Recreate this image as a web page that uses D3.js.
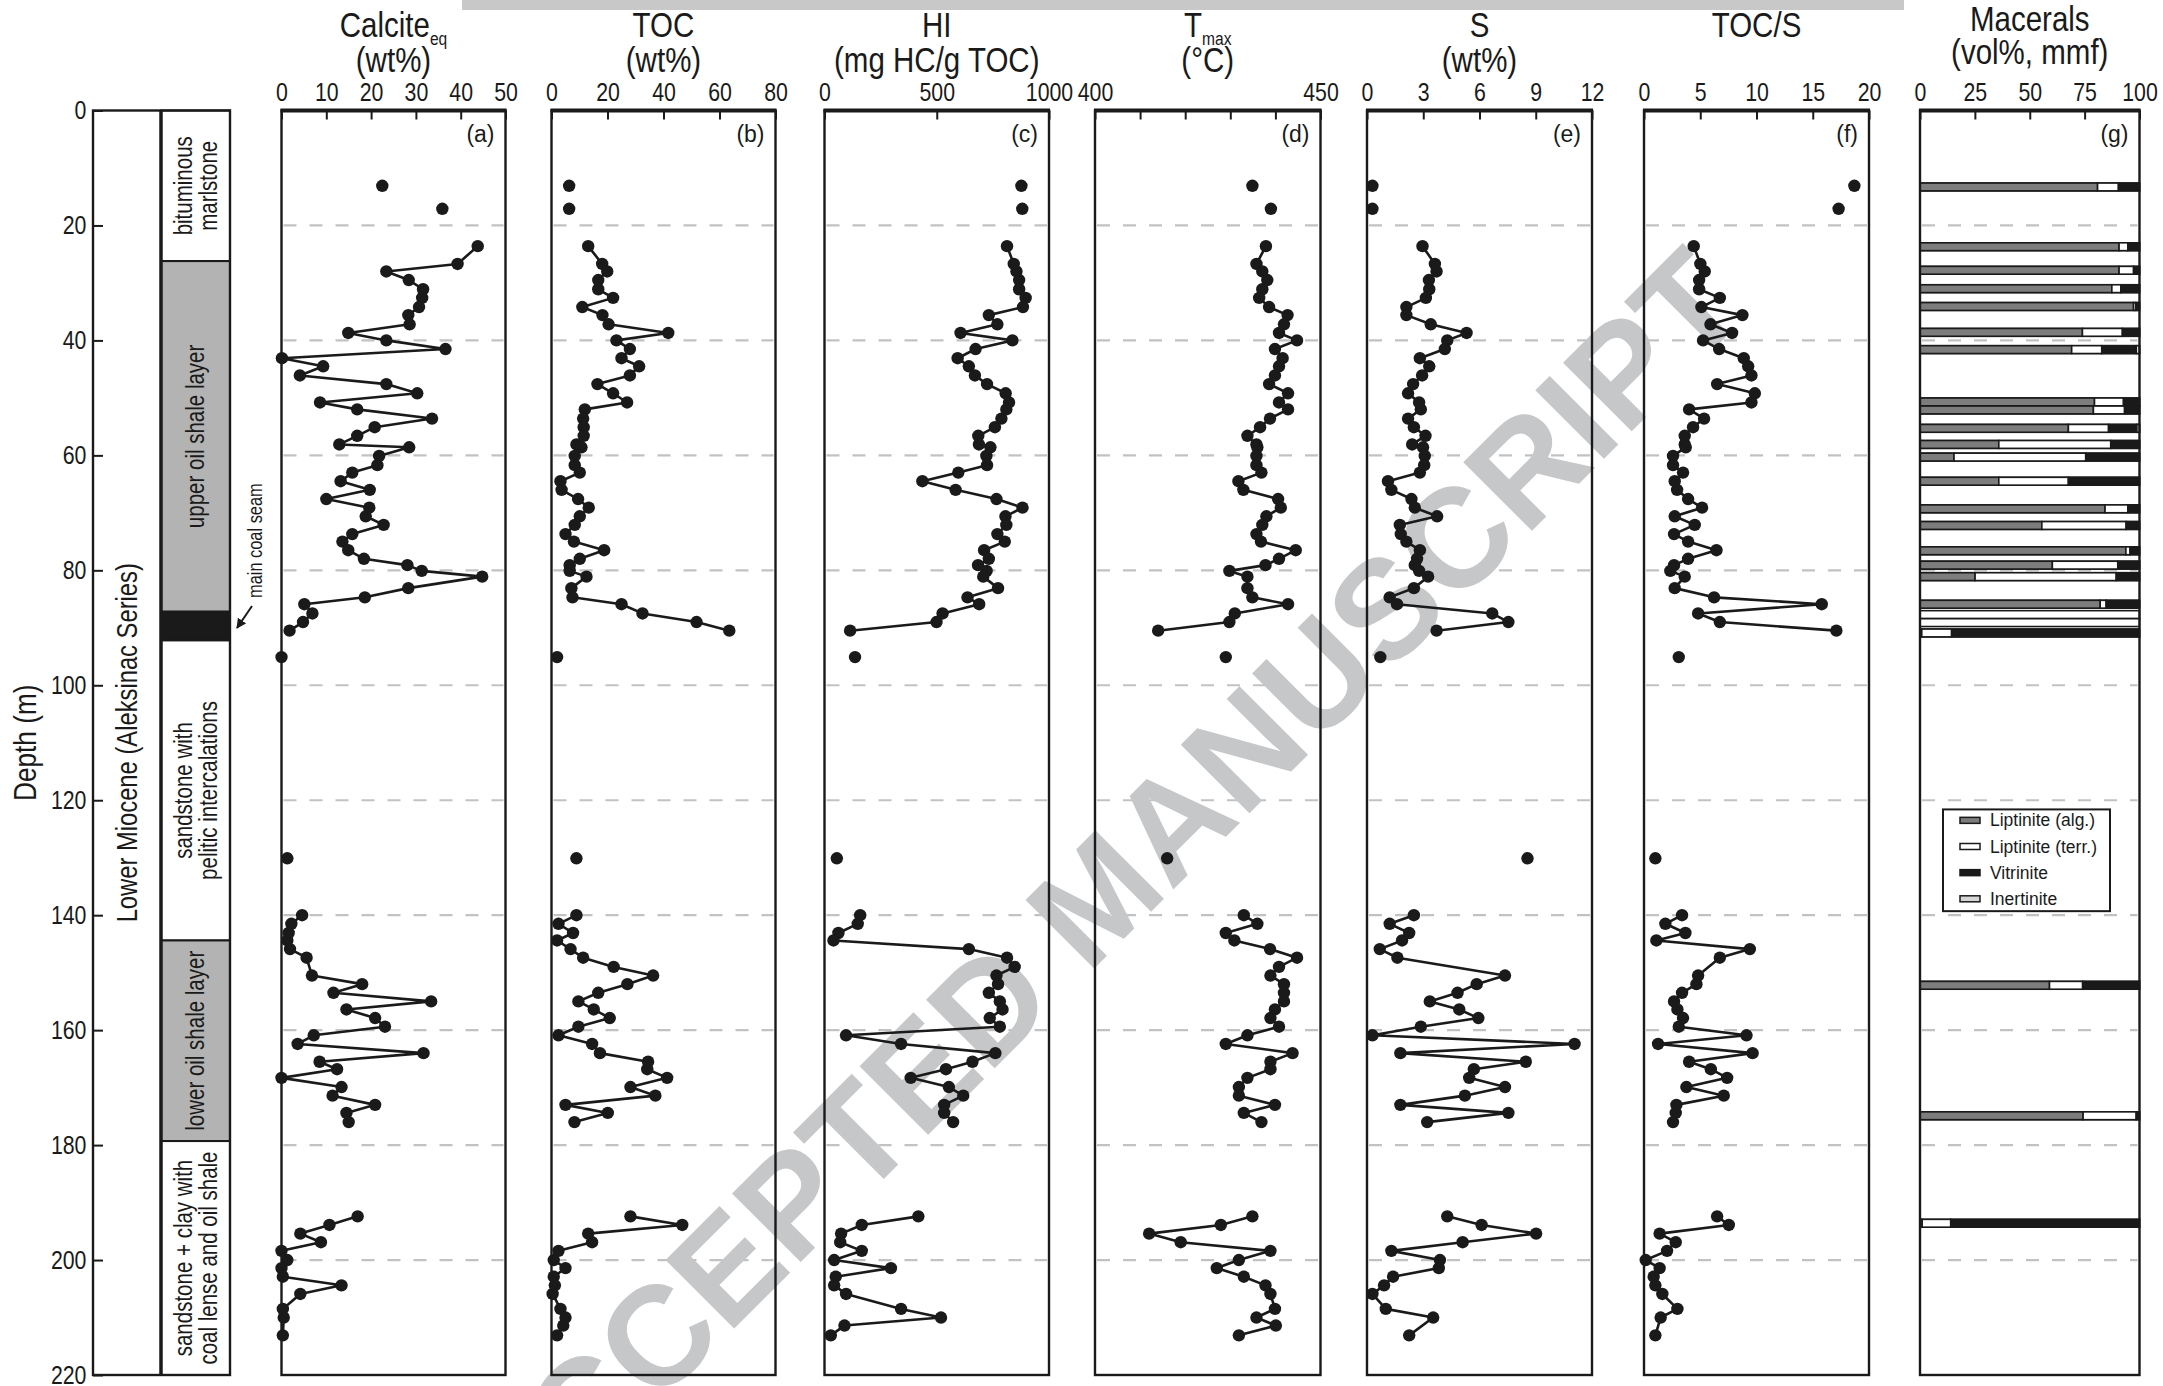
<!DOCTYPE html>
<html>
<head>
<meta charset="utf-8">
<script src="https://cdn.jsdelivr.net/npm/d3@7"></script>
<style>
  body { margin: 0; background: #fff; }
  svg { display: block; font-family: "Liberation Sans", Arial, sans-serif; }
</style>
</head>
<body>
<svg id="chart" width="2163" height="1386"></svg>
<script>
// Sample depths (m). Blocks are drawn separately: loose points are not joined.
var depthMarl = [13.1, 17.1];
var depthUpper = [23.6, 26.7, 28.0, 29.5, 31.1, 32.6, 34.2, 35.6, 37.2, 38.7, 40.0, 41.5, 43.1, 44.5, 46.1, 47.6,
  49.2, 50.8, 52.0, 53.6, 55.1, 56.6, 58.1, 58.6, 60.1, 61.7, 63.0, 64.5, 66.0, 67.6, 69.1, 70.6, 72.1, 73.7,
  75.0, 76.5, 78.0, 79.1, 80.1, 81.1, 83.1, 84.7, 85.9, 87.5, 89.0, 90.5];
var depthLoose = [95.1, 130.1];
var depthLower = [140.0, 141.5, 143.1, 144.4, 145.9, 147.4, 149.0, 150.5, 152.0, 153.5, 155.0, 156.4, 157.9,
  159.4, 160.9, 162.4, 164.0, 165.5, 166.8, 168.3, 169.9, 171.4, 173.0, 174.4, 176.0];
var depthBase = [192.4, 193.9, 195.4, 196.9, 198.4, 200.0, 201.4, 202.9, 204.4, 205.9, 208.5, 210.0, 211.4, 213.1];
var depthBlocks = [depthMarl, depthUpper, depthLoose, depthLower, depthBase];
var blockJoined = [false, true, false, true, true];

// Values in the same order as the depths above (null = not measured)
var calcite = [22.5, 35.9,
  43.8, 39.3, 23.4, 28.4, 31.6, 31.4, 30.7, 28.3, 28.6, 14.9, 23.4, 36.6, 0.1, 9.3, 4.1, 23.4, 30.3, 8.6, 16.9,
  33.6, 20.8, 16.9, 12.9, 28.5, 21.8, 21.4, 15.8, 13.2, 19.7, 10.0, 19.6, 18.8, 22.8, 15.8, 13.6, 14.9, 18.4,
  28.1, 31.3, 44.8, 28.3, 18.6, 5.1, 6.9, 4.8, 1.8,
  0.0, 1.3,
  4.6, 2.2, 1.6, 1.3, 1.9, 5.6, null, 6.8, 18.0, 11.6, 33.4, 14.5, 20.9, 23.1, 7.2, 3.6, 31.7, 8.5, 12.4, 0.0,
  13.4, 11.4, 20.9, 14.5, 15.0,
  17.0, 10.7, 4.2, 8.8, 0.0, 1.3, 0.0, 0.3, 13.4, 4.2, 0.3, 0.5, null, 0.3];
var toc = [6.3, 6.3,
  13.1, 18.1, 19.9, 16.7, 16.7, 22.0, 11.0, 18.2, 20.4, 41.7, 23.2, 28.0, 25.0, 31.3, 28.0, 16.4, 22.0, 27.0,
  11.9, 11.3, 11.5, 11.5, 8.9, 10.7, 8.3, 8.3, 10.1, 3.2, 3.6, 9.5, 13.3, 10.1, 8.3, 5.0, 8.0, 18.8, 10.1, 6.5,
  6.5, 12.5, 7.1, 7.5, 25.0, 32.5, 51.8, 63.5,
  2.0, 8.9,
  8.9, 2.5, 7.7, 2.0, 6.8, 11.3, 22.2, 36.3, 27.1, 16.7, 9.6, 15.1, 20.8, 9.6, 2.5, 14.5, 17.3, 34.5, 34.2,
  41.3, 28.2, 37.1, 5.0, 20.1, 8.2,
  28.2, 46.7, 13.1, 14.5, 2.5, 0.8, 5.0, 0.8, 1.2, 0.4, 3.2, 5.0, 4.2, 2.0];
var hi = [877, 881,
  813, 843, 855, 867, 867, 896, 884, 732, 770, 606, 837, 673, 593, 643, 670, 724, 807, 822, 810, 788, 759, 685,
  688, 739, 721, 724, 596, 436, 584, 766, 882, 806, 810, 770, 803, 711, 732, 684, 722, 707, 773, 637, 689, 526,
  499, 114,
  136, 55,
  159, 148, 62, 40, 643, 813, 847, 766, 773, 732, 781, 793, 736, 781, 96, 341, 761, 659, 541, 384, 554, 618,
  533, 533, 573,
  418, 166, 74, 70, 166, 43, 296, 50, 43, 96, 341, 519, 89, 28];
var tmax = [434.9, 439.0,
  437.9, 435.8, 437.1, 438.2, 437.1, 436.4, 438.6, 442.7, 441.9, 440.8, 444.8, 439.9, 441.6, 440.8, 439.9,
  438.6, 442.8, 440.8, 442.8, 438.8, 436.6, 433.8, 435.8, 436.0, 435.8, 435.8, 436.9, 431.8, 432.9, 440.6,
  441.2, 438.0, 437.1, 435.8, 436.8, 444.5, 440.8, 437.8, 429.8, 433.8, 433.8, 434.9, 442.8, 431.0, 429.8, 414.0,
  429.0, 416.0,
  433.0, 436.0, 429.0, 430.9, 438.8, 444.8, 440.8, 438.9, 441.9, 441.9, 441.9, 439.9, 438.9, 440.8, 433.8,
  429.0, 443.8, 438.9, 438.9, 433.8, 431.9, 431.9, 439.9, 433.0, 436.9,
  434.9, 427.9, 412.0, 419.0, 438.9, 431.9, 427.0, 433.0, 437.8, 438.9, 439.9, 435.8, 440.1, 431.9];
var sulphur = [0.29, 0.29,
  2.96, 3.62, 3.71, 3.30, 3.32, 3.14, 2.10, 2.10, 3.40, 5.31, 4.28, 4.15, 2.82, 3.32, 2.94, 2.46, 2.19, 2.78,
  2.87, 2.19, 2.50, 3.12, 2.41, 2.99, 3.08, 3.05, 2.82, 1.12, 1.30, 2.37, 2.55, 3.74, 1.75, 1.80, 2.10, 2.82,
  2.67, 2.55, 2.78, 3.26, 2.50, 1.21, 1.60, 6.68, 7.54, 3.71,
  0.71, 8.56,
  2.50, 1.21, 2.25, 1.87, 0.68, 1.62, null, 7.36, 5.85, 4.83, 3.35, 4.92, 5.94, 2.87, 0.29, 11.07, 1.78, 8.47,
  5.70, 5.45, 7.36, 5.22, 1.78, 7.54, 3.21,
  4.28, 6.11, 9.02, 5.10, 1.30, 3.89, 3.83, 1.39, 0.91, 0.29, 1.00, 3.53, null, 2.25];
var tocS = [18.7, 17.3,
  4.42, 5.01, 5.40, 4.90, 4.90, 6.74, 5.10, 8.75, 5.91, 7.83, 5.25, 6.68, 8.87, 9.26, 9.55, 6.50, 9.85, 9.55,
  4.01, 5.34, 4.36, 3.62, 3.62, 3.71, 2.58, 2.58, 3.47, 2.73, 2.94, 3.92, 5.16, 2.73, 4.51, 2.67, 3.92, 6.44,
  3.92, 2.67, 2.34, 3.62, 2.73, 6.23, 15.8, 4.81, 6.74, 17.1,
  3.09, 1.01,
  3.38, 1.90, 3.68, 1.10, 9.41, 6.74, null, 4.81, 4.66, 3.38, 2.67, 2.97, 3.47, 3.09, 9.11, 1.25, 9.65, 4.01,
  5.94, 7.39, 3.77, 7.09, 2.88, 2.82, 2.58,
  6.50, 7.54, 1.39, 2.82, 2.05, 0.15, 1.39, 0.86, 1.01, 1.63, 2.97, 1.48, null, 1.01];

// Maceral composition (vol%, mmf)
var maceralDepth = [13.3, 23.7, 27.8, 31.0, 34.1, 38.6, 41.6, 50.7, 52.1, 55.3, 58.1, 60.3, 64.5, 69.3, 72.2,
  76.6, 79.1, 81.1, 85.9, 87.7, 89.1, 90.9, 152.2, 174.9, 193.6];
var liptAlg = [80.9, 90.7, 90.7, 87.4, 97.3, 74.0, 69.1, 79.5, 79.0, 67.6, 35.9, 15.5, 35.9, 84.3, 55.5, 93.8,
  60.3, 25.1, 82.1, 0, 0, 0.8, 59.0, 74.3, 1.0];
var liptTerr = [9.5, 4.0, 6.6, 4.1, 1.0, 18.2, 13.7, 13.2, 14.2, 18.3, 51.0, 60.0, 31.7, 10.4, 38.4, 1.9, 29.8,
  64.3, 2.7, 0, 0, 13.6, 15.1, 24.2, 13.0];
var vitrinite = [9.6, 5.3, 2.7, 8.5, 1.7, 7.8, 15.7, 7.3, 6.8, 12.9, 13.1, 24.5, 32.4, 5.3, 6.1, 4.3, 9.9, 10.6,
  15.2, 0, 0, 85.6, 25.9, 1.5, 86.0];
var inertinite = [0, 0, 0, 0, 0, 0, 1.5, 0, 0, 1.2, 0, 0, 0, 0, 0, 0, 0, 0, 0, 0, 0, 0, 0, 0, 0];
var maceralNames = ["Liptinite (alg.)", "Liptinite (terr.)", "Vitrinite", "Inertinite"];

// Axis ticks
var calciteTicks = [0, 10, 20, 30, 40, 50];
var tocTicks = [0, 20, 40, 60, 80];
var hiTicks = [0, 500, 1000];
var tmaxTicks = [400, 410, 420, 430, 440, 450];
var tmaxLabels = [400, 450];
var sTicks = [0, 3, 6, 9, 12];
var tocSTicks = [0, 5, 10, 15, 20];
var maceralTicks = [0, 25, 50, 75, 100];
var depthTicks = [0, 20, 40, 60, 80, 100, 120, 140, 160, 180, 200, 220];

// Lithology column
var unitTop = [0, 26.2, 87.2, 92.2, 144.4, 179.3];
var unitBase = [26.2, 87.2, 92.2, 144.4, 179.3, 220];
var unitType = ["marl", "shale", "coal", "sand", "shale", "sand"];
var unitText = [["bituminous", "marlstone"], ["upper oil shale layer"], [],
  ["sandstone with", "pelitic intercalations"], ["lower oil shale layer"],
  ["sandstone + clay with", "coal lense and oil shale"]];

var ink = "#1a1a1a";
var svg = d3.select("#chart");
var y = d3.scaleLinear().domain([0, 220]).range([110.5, 1375]);

// condensed look: Liberation Sans squeezed horizontally
function narrow(parent, x, yy, size, anchor, rot) {
  var t = "translate(" + x + "," + yy + ")" + (rot ? " rotate(" + rot + ")" : "") + " scale(0.82,1)";
  return parent.append("text").attr("transform", t).attr("font-size", size)
    .attr("text-anchor", anchor || "middle").attr("fill", ink);
}

var panels = [
  {vals: calcite, domain: [0, 50], ticks: calciteTicks, labels: calciteTicks, left: 281.5, w: 224,
   t1: "Calcite", sub: "eq", t2: "(wt%)", tag: "(a)"},
  {vals: toc, domain: [0, 80], ticks: tocTicks, labels: tocTicks, left: 551.5, w: 224,
   t1: "TOC", sub: "", t2: "(wt%)", tag: "(b)"},
  {vals: hi, domain: [0, 1000], ticks: hiTicks, labels: hiTicks, left: 824.5, w: 224.5,
   t1: "HI", sub: "", t2: "(mg HC/g TOC)", tag: "(c)"},
  {vals: tmax, domain: [400, 450], ticks: tmaxTicks, labels: tmaxLabels, left: 1095, w: 225.5,
   t1: "T", sub: "max", t2: "(°C)", tag: "(d)"},
  {vals: sulphur, domain: [0, 12], ticks: sTicks, labels: sTicks, left: 1367, w: 225,
   t1: "S", sub: "", t2: "(wt%)", tag: "(e)"},
  {vals: tocS, domain: [0, 20], ticks: tocSTicks, labels: tocSTicks, left: 1644, w: 225,
   t1: "TOC/S", sub: "", t2: "", tag: "(f)"},
  {vals: null, domain: [0, 100], ticks: maceralTicks, labels: maceralTicks, left: 1920, w: 219.5,
   t1: "Macerals", sub: "", t2: "(vol%, mmf)", tag: "(g)"}
];

// top grey strip
svg.append("rect").attr("x", 462).attr("y", 0).attr("width", 1442).attr("height", 10).attr("fill", "#c8c8c8");

// gridlines
panels.forEach(function(p) {
  svg.append("g").selectAll("line").data(d3.range(20, 220, 20)).join("line")
    .attr("x1", p.left + 2).attr("x2", p.left + p.w - 2)
    .attr("y1", function(d) { return y(d); }).attr("y2", function(d) { return y(d); })
    .attr("stroke", "#c2c2c2").attr("stroke-width", 2.2).attr("stroke-dasharray", "13,13");
});

// watermark
svg.append("text").attr("transform", "translate(1096,895) rotate(-45)")
  .attr("text-anchor", "middle").attr("dy", "0.36em")
  .attr("font-size", 141).attr("font-weight", "bold").attr("fill", "#c6c7c9")
  .text("ACCEPTED MANUSCRIPT");

// profile panels
panels.forEach(function(p) {
  var x = d3.scaleLinear().domain(p.domain).range([p.left, p.left + p.w]);
  var g = svg.append("g");

  if (p.vals) {
    var k = 0;
    depthBlocks.forEach(function(block, bi) {
      var pts = [];
      block.forEach(function(d, i) {
        var v = p.vals[k + i];
        if (v != null) pts.push([v, d]);
      });
      k += block.length;
      if (blockJoined[bi]) {
        g.append("path").datum(pts)
          .attr("d", d3.line().x(function(q) { return x(q[0]); }).y(function(q) { return y(q[1]); }))
          .attr("fill", "none").attr("stroke", ink).attr("stroke-width", 2.6).attr("stroke-linejoin", "round");
      }
      g.selectAll(null).data(pts).join("circle")
        .attr("cx", function(q) { return x(q[0]); }).attr("cy", function(q) { return y(q[1]); })
        .attr("r", 6.2).attr("fill", ink);
    });
  } else {
    // stacked maceral bars
    var rows = maceralDepth.map(function(d, i) {
      return {depth: d, alg: liptAlg[i], terr: liptTerr[i], vit: vitrinite[i], inert: inertinite[i]};
    });
    var series = d3.stack().keys(["alg", "terr", "vit", "inert"])(rows);
    var fills = ["#7d7d7d", "#ffffff", ink, "#d6d6d6"];
    var half = 0.68;
    g.selectAll(".barbg").data(rows).join("rect")
      .attr("x", x(0)).attr("width", x(100) - x(0))
      .attr("y", function(r) { return y(r.depth - half); })
      .attr("height", function(r) { return y(r.depth + half) - y(r.depth - half); })
      .attr("fill", "#fff").attr("stroke", ink).attr("stroke-width", 1.6);
    series.forEach(function(s, si) {
      g.append("g").selectAll("rect").data(s.filter(function(c) { return c[1] - c[0] > 0; })).join("rect")
        .attr("x", function(c) { return x(c[0]); })
        .attr("width", function(c) { return x(c[1]) - x(c[0]); })
        .attr("y", function(c) { return y(c.data.depth - half); })
        .attr("height", function(c) { return y(c.data.depth + half) - y(c.data.depth - half); })
        .attr("fill", fills[si]).attr("stroke", ink).attr("stroke-width", 1.6);
    });

    // legend
    var lg = svg.append("g");
    lg.append("rect").attr("x", 1943).attr("y", y(121.6)).attr("width", 167).attr("height", y(139.3) - y(121.6))
      .attr("fill", "#fff").attr("stroke", ink).attr("stroke-width", 2);
    maceralNames.forEach(function(name, i) {
      var yy = y(123.5 + i * 4.55);
      lg.append("rect").attr("x", 1960).attr("y", yy - 3).attr("width", 20).attr("height", 6)
        .attr("fill", fills[i]).attr("stroke", ink).attr("stroke-width", 1.5);
      lg.append("text").attr("x", 1990).attr("y", yy).attr("dy", "0.35em")
        .attr("font-size", 17.5).attr("fill", ink).text(name);
    });
  }

  // frame
  g.append("rect").attr("x", p.left).attr("y", y(0)).attr("width", p.w).attr("height", y(220) - y(0))
    .attr("fill", "none").attr("stroke", ink).attr("stroke-width", 2.4);
  g.append("line").attr("x1", p.left - 1).attr("x2", p.left + p.w + 1).attr("y1", y(0)).attr("y2", y(0))
    .attr("stroke", ink).attr("stroke-width", 4);

  // top axis: ticks point into the panel
  var ax = svg.append("g").attr("transform", "translate(0," + y(0) + ")")
    .call(d3.axisTop(x).tickValues(p.ticks).tickSizeInner(-9).tickSizeOuter(0).tickPadding(10)
      .tickFormat(function(v) { return p.labels.indexOf(v) >= 0 ? v : ""; }));
  ax.select(".domain").remove();
  ax.selectAll("line").attr("stroke", ink).attr("stroke-width", 2);
  ax.selectAll("text").attr("font-size", 26).attr("font-family", "Liberation Sans, Arial, sans-serif")
    .attr("fill", ink).attr("transform", "scale(0.82,1)");

  // titles
  var cx = p.left + p.w / 2;
  var l1y = p.t1 === "Macerals" ? 31 : 37;
  var l2y = p.t1 === "Macerals" ? 64 : 72;
  var t = narrow(svg, cx, l1y, 36);
  t.append("tspan").text(p.t1);
  if (p.sub) t.append("tspan").attr("font-size", 19).attr("dy", 8).text(p.sub);
  if (p.t2) narrow(svg, cx, l2y, 36).text(p.t2);

  svg.append("text").attr("x", p.left + p.w - 11).attr("y", y(0) + 31).attr("text-anchor", "end")
    .attr("font-size", 23).attr("fill", ink).text(p.tag);
});

// lithology column
var lx0 = 93, lx1 = 161, lx2 = 230;
var unitFill = {marl: "#ffffff", shale: "#b3b3b3", coal: ink, sand: "#ffffff"};
var lith = svg.append("g");
lith.selectAll("rect").data(unitTop).join("rect")
  .attr("x", lx1).attr("width", lx2 - lx1)
  .attr("y", function(d) { return y(d); })
  .attr("height", function(d, i) { return y(unitBase[i]) - y(d); })
  .attr("fill", function(d, i) { return unitFill[unitType[i]]; })
  .attr("stroke", ink).attr("stroke-width", 2);
unitText.forEach(function(lines, i) {
  var cy = y((unitTop[i] + unitBase[i]) / 2);
  var cxm = (lx1 + lx2) / 2;
  lines.forEach(function(s, j) {
    var off = lines.length === 1 ? 0 : (j === 0 ? -12.5 : 12.5);
    narrow(lith, cxm + off, cy, 25, "middle", -90).attr("dy", "0.35em").text(s);
  });
});
lith.append("rect").attr("x", lx0).attr("y", y(0)).attr("width", lx2 - lx0).attr("height", y(220) - y(0))
  .attr("fill", "none").attr("stroke", ink).attr("stroke-width", 2.4);
lith.append("line").attr("x1", lx1).attr("x2", lx1).attr("y1", y(0)).attr("y2", y(220))
  .attr("stroke", ink).attr("stroke-width", 3.5);
narrow(lith, (lx0 + lx1) / 2, y(110), 29, "middle", -90).attr("dy", "0.35em")
  .text("Lower Miocene (Aleksinac Series)");

// depth axis
var dax = svg.append("g").attr("transform", "translate(" + lx0 + ",0)")
  .call(d3.axisLeft(y).tickValues(depthTicks).tickSizeInner(-10).tickSizeOuter(0).tickPadding(8));
dax.select(".domain").remove();
dax.selectAll("line").attr("stroke", ink).attr("stroke-width", 2);
dax.selectAll("text").attr("font-size", 26).attr("font-family", "Liberation Sans, Arial, sans-serif")
  .attr("fill", ink).attr("transform", "scale(0.82,1)");
narrow(svg, 25, y(110), 32, "middle", -90).attr("dy", "0.35em").text("Depth (m)");

// main coal seam note
svg.append("defs").append("marker").attr("id", "arr").attr("viewBox", "0 0 10 10")
  .attr("refX", 9).attr("refY", 5).attr("markerWidth", 5).attr("markerHeight", 5).attr("orient", "auto")
  .append("path").attr("d", "M0,0 L10,5 L0,10 z").attr("fill", ink);
svg.append("line").attr("x1", 252).attr("y1", 606).attr("x2", 237).attr("y2", 628)
  .attr("stroke", ink).attr("stroke-width", 2).attr("marker-end", "url(#arr)");
narrow(svg, 262, 598, 20, "start", -90).text("main coal seam");
</script>
</body>
</html>
